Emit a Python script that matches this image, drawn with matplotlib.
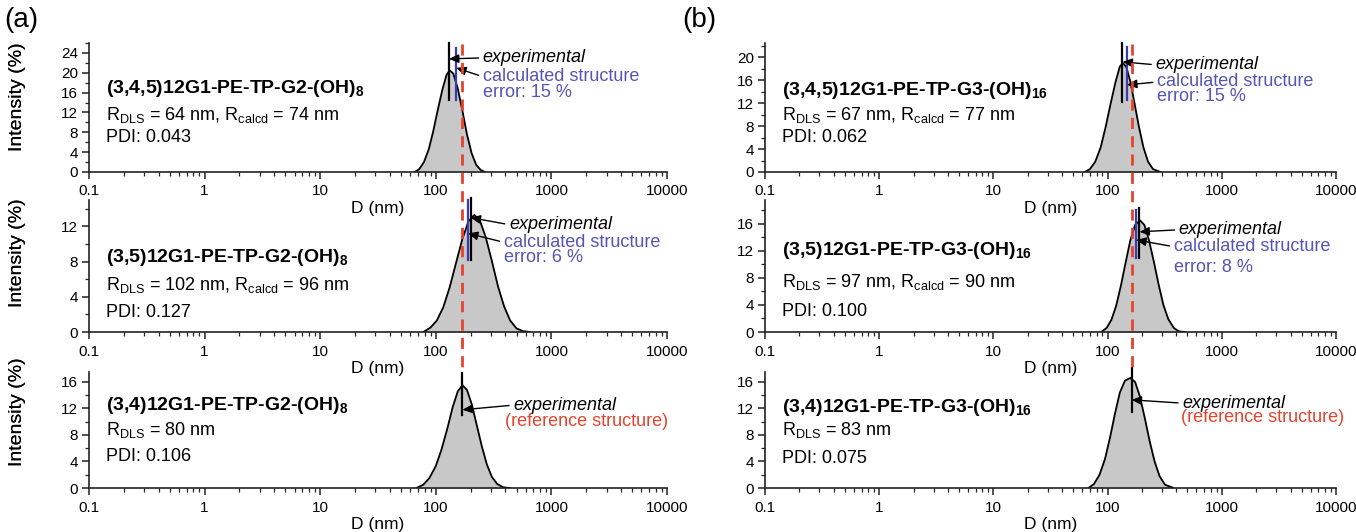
import matplotlib.pyplot as plt
from matplotlib.ticker import FixedLocator, LogLocator, MultipleLocator, NullFormatter
from matplotlib.transforms import blended_transform_factory
from matplotlib.lines import Line2D

plt.rcParams["font.family"] = ["Liberation Sans", "DejaVu Sans"]
plt.rcParams["mathtext.fontset"] = "custom"
plt.rcParams["mathtext.rm"] = "Liberation Sans"
plt.rcParams["mathtext.it"] = "Liberation Sans:italic"
plt.rcParams["mathtext.bf"] = "Liberation Sans:bold"

# ---- data ---------------------------------------------------------------
# (a) G2 series: (3,4,5), (3,5), (3,4)
g2_345_d = [66, 72, 79, 87, 95, 104, 114, 124, 132, 142, 155, 170, 186, 204, 224, 245, 266]
g2_345_i = [0, 0.6, 2.0, 4.6, 8.2, 12.5, 16.6, 19.6, 20.5, 19.8, 16.8, 12.3, 7.6, 3.8, 1.4, 0.4, 0]
g2_35_d = [78, 90, 102, 116, 132, 150, 170, 192, 215, 240, 270, 305, 345, 390, 440, 500, 570, 650]
g2_35_i = [0, 0.5, 1.3, 2.8, 5.1, 7.9, 10.6, 12.6, 13.3, 12.7, 10.8, 8.1, 5.2, 2.9, 1.3, 0.4, 0.1, 0]
g2_34_d = [68, 78, 88, 100, 112, 126, 140, 155, 170, 186, 205, 226, 250, 276, 305, 340, 385, 440]
g2_34_i = [0, 0.5, 1.5, 3.3, 5.8, 9.0, 12.2, 14.6, 15.5, 14.8, 12.6, 9.5, 6.3, 3.6, 1.7, 0.6, 0.1, 0]

# (b) G3 series
g3_345_d = [63, 70, 78, 87, 96, 106, 117, 128, 136, 146, 158, 172, 188, 206, 226, 250, 290]
g3_345_i = [0, 0.5, 1.8, 4.3, 7.8, 11.8, 15.6, 18.4, 19.0, 18.3, 15.8, 12.0, 7.9, 4.3, 1.8, 0.5, 0]
g3_35_d = [88, 98, 108, 119, 131, 144, 158, 174, 192, 210, 230, 254, 280, 308, 340, 380, 420, 470]
g3_35_i = [0, 0.6, 1.8, 3.9, 6.9, 10.3, 13.5, 15.8, 16.5, 15.8, 13.6, 10.4, 7.0, 4.0, 1.9, 0.6, 0.1, 0]
g3_34_d = [68, 76, 85, 95, 105, 116, 128, 142, 158, 174, 192, 212, 234, 258, 285, 318, 378]
g3_34_i = [0, 0.6, 2.0, 4.4, 7.6, 11.2, 14.4, 16.2, 16.6, 16.0, 13.8, 10.5, 7.0, 4.0, 1.8, 0.5, 0]

# experimental / calculated sizes (nm) marked by vertical lines
g2_exp_d = [130, 200, 170]
g2_calc_d = [150, 190, None]
g3_exp_d = [135, 190, 162]
g3_calc_d = [148, 178, None]

g2_names = ["(3,4,5)12G1-PE-TP-G2-(OH)", "(3,5)12G1-PE-TP-G2-(OH)", "(3,4)12G1-PE-TP-G2-(OH)"]
g3_names = ["(3,4,5)12G1-PE-TP-G3-(OH)", "(3,5)12G1-PE-TP-G3-(OH)", "(3,4)12G1-PE-TP-G3-(OH)"]
g2_rdls = [64, 102, 80]
g2_rcalc = [74, 96, None]
g3_rdls = [67, 97, 83]
g3_rcalc = [77, 90, None]
g2_pdi = ["0.043", "0.127", "0.106"]
g3_pdi = ["0.062", "0.100", "0.075"]
g2_err = ["15", "6", None]
g3_err = ["15", "8", None]

tick_vals = [0.1, 1, 10, 100, 1000, 10000]
tick_labels = ["0.1", "1", "10", "100", "1000", "10000"]

# ---- styling / layout ---------------------------------------------------
W, H = 1356, 532
GRAY = "#c8c8c8"
BLUE_TXT = "#5555b5"
BLUE_LINE = "#3a3ab0"
RED = "#e5432e"
AXC = "#222222"

col_px = [(89, 667), (765, 1336)]
row_px = [(43, 172), (200, 332), (372, 488)]
ylabel_frac = [0.58, 0.6, 0.66]

# per panel: ylim, text rows y, marker line extents, annotation positions
g2_layout = [
    dict(ylim=26, ty=(16.9, 11.5, 6.9), exp_line=(14.5, 26), calc_line=(14.5, 25),
         exp_txt=(255, 23.0), exp_arr=22.8, calc_txt=(255, 19.2), calc_arr=21.0, err_y=16.1),
    dict(ylim=15, ty=(8.5, 5.3, 2.2), exp_line=(8.2, 15.2), calc_line=(8.2, 15.0),
         exp_txt=(429, 12.2), exp_arr=13.0, calc_txt=(386, 10.2), calc_arr=11.2, err_y=8.5),
    dict(ylim=17.5, ty=(12.5, 8.7, 4.7), exp_line=(11.0, 17.3),
         exp_txt=(468, 12.5), exp_arr=11.8, ref_txt=(393, 10.0)),
]
g3_layout = [
    dict(ylim=22.5, ty=(14.3, 9.9, 6.0), exp_line=(12.2, 22.5), calc_line=(12.5, 21.8),
         exp_txt=(262, 18.7), exp_arr=19.2, calc_txt=(271, 15.7), calc_arr=15.2, err_y=13.1),
    dict(ylim=19.5, ty=(12.1, 7.4, 3.0), exp_line=(10.9, 18.3), calc_line=(10.9, 18.0),
         exp_txt=(420, 15.1), exp_arr=14.8, calc_txt=(379, 12.6), calc_arr=13.6, err_y=9.5),
    dict(ylim=17.5, ty=(12.2, 8.7, 4.5), exp_line=(11.5, 18.1),
         exp_txt=(450, 12.8), exp_arr=13.3, ref_txt=(443, 10.6)),
]

fig = plt.figure(figsize=(W / 100, H / 100), dpi=100)


def make_axes(col, row):
    x0, x1 = col_px[col]
    yt, yb = row_px[row]
    return fig.add_axes([x0 / W, 1 - yb / H, (x1 - x0) / W, (yb - yt) / H])


def style_axes(ax, ylim, label_y):
    pos = ax.get_position()
    w_px, h_px = pos.width * W, pos.height * H
    ax.set_xscale("log")
    ax.set_xlim(0.1, 10000)
    ax.set_ylim(0, ylim)
    ax.xaxis.set_major_locator(FixedLocator(tick_vals))
    ax.set_xticklabels(tick_labels)
    ax.xaxis.set_minor_locator(LogLocator(base=10, subs=range(2, 10), numticks=20))
    ax.xaxis.set_minor_formatter(NullFormatter())
    ax.yaxis.set_major_locator(MultipleLocator(4))
    ax.yaxis.set_minor_locator(MultipleLocator(2))
    for s in ("top", "right"):
        ax.spines[s].set_visible(False)
    for s in ("left", "bottom"):
        ax.spines[s].set_linewidth(1.2)
        ax.spines[s].set_color(AXC)
    ax.tick_params(which="major", length=5, width=1.1, color=AXC, labelsize=11)
    ax.tick_params(axis="x", which="major", pad=4)
    ax.tick_params(axis="y", which="major", pad=3)
    ax.tick_params(which="minor", length=3, width=0.9, color=AXC)
    ax.set_ylabel("Intensity (%)", fontsize=14)
    ax.yaxis.set_label_coords((26 - pos.x0 * W) / w_px, label_y)
    ax.set_xlabel("D (nm)", fontsize=12.5)
    ax.xaxis.set_label_coords(0.5, -29 / h_px)
    ax.patch.set_alpha(0)


def draw_column(col, curves, names, sub, rdls, rcalc, pdi, err, exp_d, calc_d, layout):
    axes = []
    for row in range(3):
        ax = make_axes(col, row)
        lay = layout[row]
        style_axes(ax, lay["ylim"], ylabel_frac[row])
        d, inten = curves[row]
        ax.fill_between(d, inten, color=GRAY, lw=0, zorder=1)
        ax.plot(d, inten, color="k", lw=1.3, zorder=2)

        # vertical marker lines
        ax.plot([exp_d[row]] * 2, lay["exp_line"], color="k", lw=1.6, zorder=4, clip_on=False)
        if calc_d[row] is not None:
            ax.plot([calc_d[row]] * 2, lay["calc_line"], color=BLUE_LINE, lw=1.6, zorder=3,
                    clip_on=False)

        # sample description
        ty = lay["ty"]
        ax.text(0.14, ty[0], names[row] + r"$_\mathbf{" + sub + "}$", fontsize=14,
                fontweight="bold", va="center")
        if rcalc[row] is not None:
            rtxt = (r"R$_{\rm DLS}$ = %d nm, R$_{\rm calcd}$ = %d nm" % (rdls[row], rcalc[row]))
        else:
            rtxt = r"R$_{\rm DLS}$ = %d nm" % rdls[row]
        ax.text(0.14, ty[1], rtxt, fontsize=13, va="center")
        ax.text(0.14, ty[2], "PDI: " + pdi[row], fontsize=13, va="center")

        arrow = dict(arrowstyle="-|>,head_length=0.45,head_width=0.2", color="k", lw=1.0,
                     shrinkA=1, shrinkB=0, relpos=(0, 0.5))
        ax.annotate("experimental", xy=(exp_d[row], lay["exp_arr"]), xytext=lay["exp_txt"],
                    fontsize=13, style="italic", va="center", ha="left",
                    arrowprops=arrow, annotation_clip=False, zorder=5)
        if calc_d[row] is not None:
            ax.annotate("calculated structure", xy=(calc_d[row], lay["calc_arr"]),
                        xytext=lay["calc_txt"], fontsize=13, color=BLUE_TXT, va="center",
                        ha="left", arrowprops=arrow, annotation_clip=False, zorder=5)
            ax.text(lay["calc_txt"][0], lay["err_y"], "error: %s %%" % err[row], fontsize=13,
                    color=BLUE_TXT, va="center")
        else:
            ax.text(lay["ref_txt"][0], lay["ref_txt"][1], "(reference structure)", fontsize=13,
                    color=RED, va="center")
        axes.append(ax)

    # red dashed reference line running through the whole column
    ref = exp_d[2]
    ax_b = axes[2]
    y_end = fig.transFigure.inverted().transform(
        ax_b.transData.transform((ref, layout[2]["exp_line"][1])))[1]
    trans = blended_transform_factory(ax_b.transData, fig.transFigure)
    fig.add_artist(Line2D([ref, ref], [1 - 44 / H, y_end], transform=trans, color=RED,
                          lw=2.0, dashes=(4, 2.6), zorder=6))


draw_column(0, [(g2_345_d, g2_345_i), (g2_35_d, g2_35_i), (g2_34_d, g2_34_i)],
            g2_names, "8", g2_rdls, g2_rcalc, g2_pdi, g2_err, g2_exp_d, g2_calc_d, g2_layout)
draw_column(1, [(g3_345_d, g3_345_i), (g3_35_d, g3_35_i), (g3_34_d, g3_34_i)],
            g3_names, "16", g3_rdls, g3_rcalc, g3_pdi, g3_err, g3_exp_d, g3_calc_d, g3_layout)

fig.text(4 / W, 1 - 20 / H, "(a)", fontsize=20, va="center")
fig.text(682 / W, 1 - 20 / H, "(b)", fontsize=20, va="center")

fig.savefig("out.png", dpi=100)
